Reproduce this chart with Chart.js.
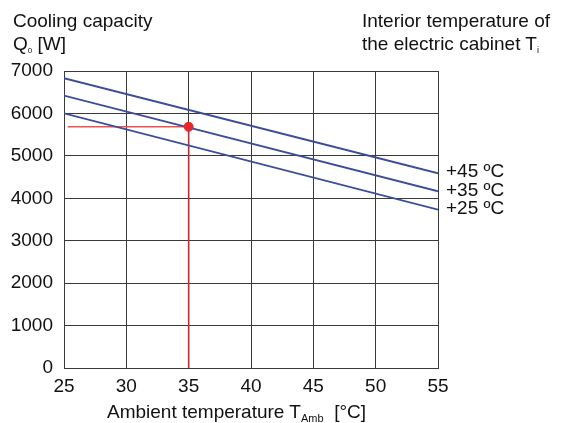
<!DOCTYPE html>
<html>
<head>
<meta charset="utf-8">
<script src="https://cdn.jsdelivr.net/npm/chart.js@4"></script>
<style>
  html, body { margin: 0; padding: 0; background: #fff; }
  #wrap { position: relative; width: 565px; height: 423px; font-family: 'Liberation Sans', Arial, sans-serif; color: #111; }
  canvas { position: absolute; left: 0; top: 0; }
  .txt { position: absolute; font-size: 19px; line-height: 23px; white-space: pre; }
  .sub { position: relative; }
</style>
</head>
<body>
<div id="wrap">
  <canvas id="c" width="565" height="423"></canvas>
  <div class="txt" style="left:13px; top:9px;">Cooling capacity<br>Q<span class="sub" style="font-size:8px; top:3px;">0</span> [W]</div>
  <div class="txt" style="left:362px; top:9px;">Interior temperature of<br>the electric cabinet T<span class="sub" style="font-size:9px; top:3px;">i</span></div>
  <div class="txt" style="left:107px; top:400px;">Ambient temperature T<span class="sub" style="font-size:11px; top:4px;">Amb</span>  [°C]</div>
</div>
<script>
// ---- data ----
const ambientTemps = [25, 55];              // x of line end points (°C)
const capacity45 = [6830, 4590];            // +45 °C interior
const capacity35 = [6420, 4165];            // +35 °C interior
const capacity25 = [6000, 3730];            // +25 °C interior
const seriesLabels = ['+45 ºC', '+35 ºC', '+25 ºC'];
const markerX = 35;                         // operating point
const markerY = 5685;
const guideStartX = 25.3;
const xTicks = [25, 30, 35, 40, 45, 50, 55];
const yTicks = [0, 1000, 2000, 3000, 4000, 5000, 6000, 7000];

const FONT = "'Liberation Sans', Arial, sans-serif";
Chart.defaults.font.family = FONT;
Chart.defaults.font.size = 19;
Chart.defaults.color = '#111';

const blue = '#3b4c9b';
const toPts = (xs, ys) => xs.map((x, i) => ({ x: x, y: ys[i] }));
const seriesData = [capacity45, capacity35, capacity25];

const lineLabels = {
  id: 'lineLabels',
  afterDatasetsDraw(chart) {
    const { ctx, chartArea, scales } = chart;
    ctx.save();
    ctx.font = '19px ' + FONT;
    ctx.fillStyle = '#111';
    ctx.textBaseline = 'middle';
    ctx.textAlign = 'left';
    seriesData.forEach((arr, i) => {
      const y = scales.y.getPixelForValue(arr[arr.length - 1]);
      ctx.fillText(seriesLabels[i], chartArea.right + 8, y - 1);
    });
    ctx.restore();
  }
};

new Chart(document.getElementById('c'), {
  type: 'scatter',
  data: {
    datasets: [
      { data: [{ x: markerX, y: markerY }], backgroundColor: '#e8262a', borderColor: '#e8262a', pointRadius: 4.5, order: 0 },
      { data: toPts(ambientTemps, capacity45), showLine: true, borderColor: blue, borderWidth: 1.8, pointRadius: 0, order: 1 },
      { data: toPts(ambientTemps, capacity35), showLine: true, borderColor: blue, borderWidth: 1.8, pointRadius: 0, order: 1 },
      { data: toPts(ambientTemps, capacity25), showLine: true, borderColor: blue, borderWidth: 1.8, pointRadius: 0, order: 1 },
      { data: [{ x: guideStartX, y: markerY }, { x: markerX, y: markerY }], showLine: true, borderColor: '#ee5050', borderWidth: 1.6, pointRadius: 0, order: 2 },
      { data: [{ x: markerX, y: markerY }, { x: markerX, y: 0 }], showLine: true, borderColor: '#c62a30', borderWidth: 1.6, pointRadius: 0, order: 2 }
    ]
  },
  options: {
    responsive: false,
    animation: false,
    events: [],
    layout: { padding: { left: 0, right: 127, top: 71, bottom: 0 } },
    plugins: { legend: { display: false }, tooltip: { enabled: false } },
    scales: {
      x: {
        type: 'linear', min: 25, max: 55,
        afterBuildTicks: (s) => { s.ticks = xTicks.map(v => ({ value: v })); },
        afterFit: (s) => { s.height = 55; },
        grid: { color: '#3a3a3a', lineWidth: 1, drawTicks: false },
        border: { color: '#3a3a3a', width: 1 },
        ticks: { padding: 7, font: { size: 19 }, color: '#111', maxRotation: 0 }
      },
      y: {
        min: 0, max: 7000,
        afterBuildTicks: (s) => { s.ticks = yTicks.map(v => ({ value: v })); },
        afterFit: (s) => { s.width = 64; },
        grid: { color: '#3a3a3a', lineWidth: 1, drawTicks: false },
        border: { color: '#3a3a3a', width: 1 },
        ticks: { padding: 11, font: { size: 19 }, color: '#111', callback: (v) => String(v) }
      }
    }
  },
  plugins: [lineLabels]
});
</script>
</body>
</html>
